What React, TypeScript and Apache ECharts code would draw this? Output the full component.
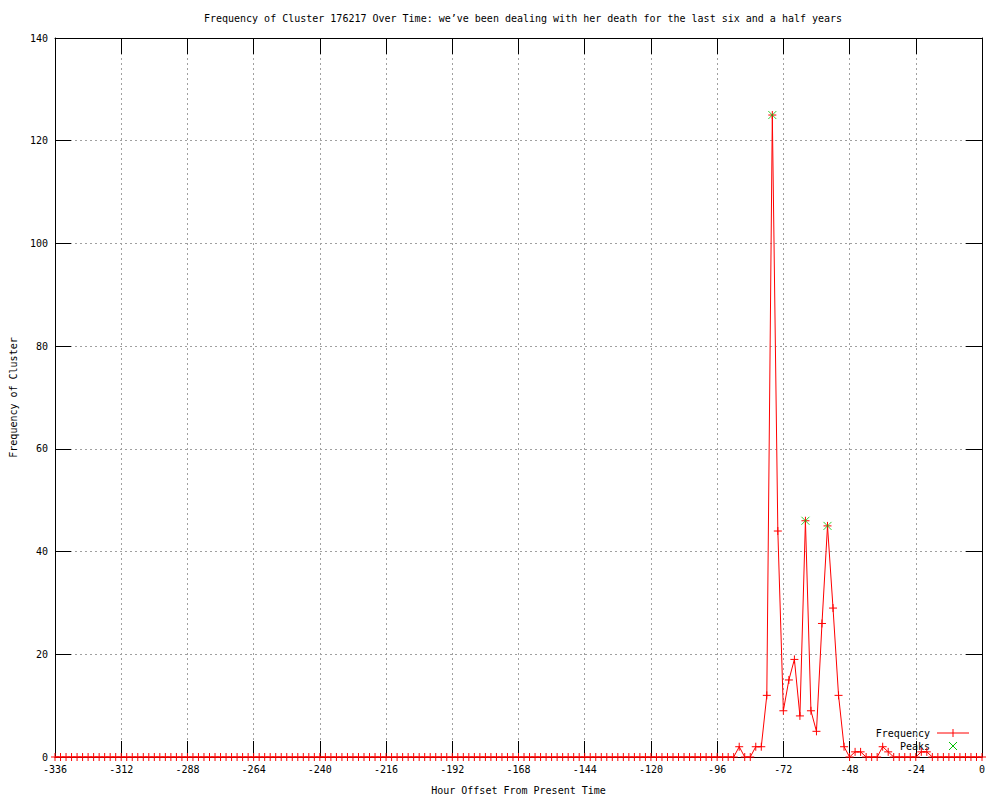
import React, { useEffect, useRef } from "react";
import * as echarts from "echarts";

// Sampling grid: one value every 2 hours from -336 to 0
const START_HOUR = -336;
const STEP_HOURS = 2;

// Frequency of the cluster at each 2-hour step (-336 ... 0)
const frequency = [
  0, 0, 0, 0, 0, 0, 0, 0, 0, 0, 0, 0, // -336 .. -314
  0, 0, 0, 0, 0, 0, 0, 0, 0, 0, 0, 0, // -312 .. -290
  0, 0, 0, 0, 0, 0, 0, 0, 0, 0, 0, 0, // -288 .. -266
  0, 0, 0, 0, 0, 0, 0, 0, 0, 0, 0, 0, // -264 .. -242
  0, 0, 0, 0, 0, 0, 0, 0, 0, 0, 0, 0, // -240 .. -218
  0, 0, 0, 0, 0, 0, 0, 0, 0, 0, 0, 0, // -216 .. -194
  0, 0, 0, 0, 0, 0, 0, 0, 0, 0, 0, 0, // -192 .. -170
  0, 0, 0, 0, 0, 0, 0, 0, 0, 0, 0, 0, // -168 .. -146
  0, 0, 0, 0, 0, 0, 0, 0, 0, 0, 0, 0, // -144 .. -122
  0, 0, 0, 0, 0, 0, 0, 0, 0, 0, 0, 0, // -120 .. -98
  0, 0, 0, 0, 2, 0, 0, 2, 2, 12, 125, 44, // -96 .. -74
  9, 15, 19, 8, 46, 9, 5, 26, 45, 29, 12, 2, // -72 .. -50
  0, 1, 1, 0, 0, 0, 2, 1, 0, 0, 0, 0, // -48 .. -26
  0, 1, 1, 0, 0, 0, 0, 0, 0, 0, 0, 0, // -24 .. -2
  0, // 0
];

const peakHours = [-76, -64, -56];
const peakValues = [125, 46, 45];

const X_MIN = -336;
const X_MAX = 0;
const X_INTERVAL = 24;
const Y_MIN = 0;
const Y_MAX = 140;
const Y_INTERVAL = 20;

const TITLE =
  "Frequency of Cluster 176217 Over Time: we\u2019ve been dealing with her death for the last six and a half years";
const X_NAME = "Hour Offset From Present Time";
const Y_NAME = "Frequency of Cluster";
const LEGEND_FREQ = "Frequency";
const LEGEND_PEAKS = "Peaks";

const FONT = "DejaVu Sans Mono";
const RED = "#ff0000";
const GREEN = "#00c000";

const PLUS = "path://M0,4L8,4M4,0L4,8";
const CROSS = "path://M0,0L8,8M8,0L0,8";

export default function App() {
  const ref = useRef<HTMLDivElement>(null);

  useEffect(() => {
    if (!ref.current) return;
    const chart = echarts.init(ref.current, undefined, { renderer: "svg" });

    const freqData = frequency.map((v, i) => [START_HOUR + i * STEP_HOURS, v]);
    const peakData = peakHours.map((h, i) => [h, peakValues[i]]);

    const baseTick = {
      show: true,
      inside: true,
      length: 16,
      lineStyle: { color: "#000", width: 1 },
    };
    const baseLine = {
      show: true,
      onZero: false,
      lineStyle: { color: "#000", width: 1 },
    };
    const label = {
      color: "#000",
      fontFamily: FONT,
      fontSize: 10,
    };

    chart.setOption({
      animation: false,
      backgroundColor: "#fff",
      title: {
        text: TITLE,
        left: 518,
        textAlign: "center",
        top: 8,
        textStyle: {
          fontFamily: FONT,
          fontSize: 10,
          fontWeight: "normal",
          color: "#000",
        },
      },
      grid: { left: 55, right: 18, top: 38, bottom: 39 },
      xAxis: [
        {
          type: "value",
          position: "bottom",
          min: X_MIN,
          max: X_MAX,
          interval: X_INTERVAL,
          axisLine: baseLine,
          axisTick: baseTick,
          axisLabel: { ...label, margin: 7, showMinLabel: true, showMaxLabel: true },
          splitLine: {
            show: true,
            lineStyle: { color: "#a0a0a0", width: 1, type: [2, 3] },
          },
          name: X_NAME,
          nameLocation: "middle",
          nameGap: 28,
          nameTextStyle: { ...label },
        },
        {
          type: "value",
          position: "top",
          min: X_MIN,
          max: X_MAX,
          interval: X_INTERVAL,
          axisLine: baseLine,
          axisTick: baseTick,
          axisLabel: { show: false },
          splitLine: { show: false },
        },
      ],
      yAxis: [
        {
          type: "value",
          position: "left",
          min: Y_MIN,
          max: Y_MAX,
          interval: Y_INTERVAL,
          axisLine: baseLine,
          axisTick: baseTick,
          axisLabel: { ...label, margin: 7, showMinLabel: true, showMaxLabel: true },
          splitLine: {
            show: true,
            lineStyle: { color: "#a0a0a0", width: 1, type: [2, 3] },
          },
          name: Y_NAME,
          nameLocation: "middle",
          nameGap: 37,
          nameRotate: 90,
          nameTextStyle: { ...label },
        },
        {
          type: "value",
          position: "right",
          min: Y_MIN,
          max: Y_MAX,
          interval: Y_INTERVAL,
          axisLine: baseLine,
          axisTick: baseTick,
          axisLabel: { show: false },
          splitLine: { show: false },
        },
      ],
      series: [
        {
          name: LEGEND_FREQ,
          type: "line",
          xAxisIndex: 0,
          yAxisIndex: 0,
          data: freqData,
          clip: false,
          symbol: PLUS,
          symbolSize: 8,
          showSymbol: true,
          showAllSymbol: true,
          lineStyle: { color: RED, width: 1 },
          itemStyle: { color: RED, borderColor: RED, borderWidth: 1 },
          emphasis: { disabled: true },
          z: 3,
        },
        {
          name: LEGEND_PEAKS,
          type: "scatter",
          xAxisIndex: 0,
          yAxisIndex: 0,
          data: peakData,
          clip: false,
          symbol: CROSS,
          symbolSize: 8,
          itemStyle: { color: GREEN, borderColor: GREEN, borderWidth: 1 },
          emphasis: { disabled: true },
          z: 4,
        },
      ],
      graphic: [
        {
          type: "text",
          x: 930,
          y: 733,
          style: {
            text: LEGEND_FREQ,
            fill: "#000",
            font: `10px "${FONT}"`,
            align: "right",
            verticalAlign: "middle",
          },
        },
        {
          type: "line",
          shape: { x1: 937, y1: 733, x2: 969, y2: 733 },
          style: { stroke: RED, lineWidth: 1 },
        },
        {
          type: "line",
          shape: { x1: 953, y1: 729, x2: 953, y2: 737 },
          style: { stroke: RED, lineWidth: 1 },
        },
        {
          type: "text",
          x: 930,
          y: 746,
          style: {
            text: LEGEND_PEAKS,
            fill: "#000",
            font: `10px "${FONT}"`,
            align: "right",
            verticalAlign: "middle",
          },
        },
        {
          type: "line",
          shape: { x1: 949, y1: 742, x2: 957, y2: 750 },
          style: { stroke: GREEN, lineWidth: 1 },
        },
        {
          type: "line",
          shape: { x1: 957, y1: 742, x2: 949, y2: 750 },
          style: { stroke: GREEN, lineWidth: 1 },
        },
      ],
    });

    return () => {
      chart.dispose();
    };
  }, []);

  return (
    <div
      ref={ref}
      style={{ position: "fixed", left: 0, top: 0, width: 1000, height: 800, background: "#fff" }}
    />
  );
}
